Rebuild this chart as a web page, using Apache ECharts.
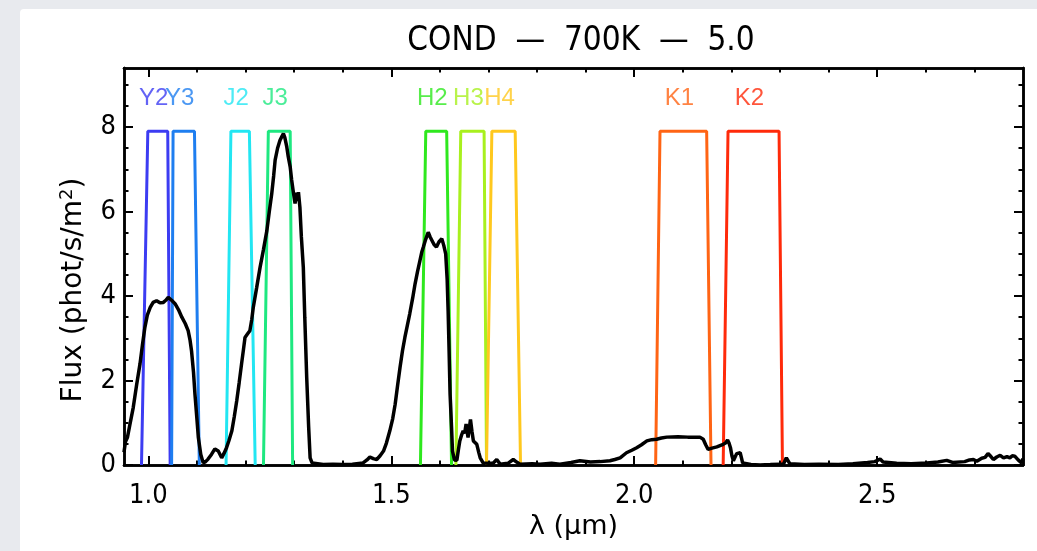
<!DOCTYPE html>
<html>
<head>
<meta charset="utf-8">
<script src="https://cdn.jsdelivr.net/npm/echarts@6/dist/echarts.min.js"></script>
<style>
  html, body { margin: 0; padding: 0; width: 1037px; height: 551px; background: #e8eaee; overflow: hidden; }
  #panel { position: absolute; left: 20px; top: 9px; right: 0; bottom: 0; background: #fff; border-top-left-radius: 4px; }
  #chart { position: absolute; left: 0; top: 0; width: 1037px; height: 551px; }
</style>
</head>
<body>
<div id="panel"></div>
<div id="chart"></div>
<script>
// spectrum (wavelength in micron, flux in phot/s/m^2)
const wave = [
  0.950, 0.953, 0.957, 0.962, 0.969, 0.976, 0.983, 0.988, 0.993, 0.998,
  1.004, 1.010, 1.017, 1.024, 1.031, 1.036, 1.041, 1.048, 1.055, 1.062,
  1.069, 1.076, 1.082, 1.086, 1.089, 1.093, 1.096, 1.100, 1.103, 1.108,
  1.113, 1.118, 1.123, 1.130, 1.137, 1.141, 1.144, 1.151, 1.156, 1.161,
  1.166, 1.172, 1.177, 1.182, 1.187, 1.192, 1.196, 1.199, 1.204, 1.209,
  1.213, 1.216, 1.223, 1.230, 1.237, 1.244, 1.249, 1.254, 1.258, 1.261,
  1.266, 1.271, 1.275, 1.278, 1.281, 1.285, 1.288, 1.292, 1.295, 1.298,
  1.302, 1.305, 1.307, 1.309, 1.312, 1.315, 1.319, 1.322, 1.326, 1.330,
  1.333, 1.337, 1.340, 1.360, 1.380, 1.400, 1.420, 1.442, 1.450, 1.456,
  1.463, 1.470, 1.477, 1.484, 1.490, 1.497, 1.503, 1.508, 1.513, 1.518,
  1.523, 1.528, 1.533, 1.538, 1.544, 1.549, 1.554, 1.559, 1.563, 1.566,
  1.571, 1.576, 1.580, 1.583, 1.588, 1.593, 1.598, 1.604, 1.608, 1.612,
  1.615, 1.617, 1.619, 1.621, 1.624, 1.626, 1.630, 1.635, 1.638, 1.641,
  1.645, 1.648, 1.651, 1.654, 1.656, 1.658, 1.661, 1.663, 1.666, 1.669,
  1.672, 1.676, 1.680, 1.683, 1.689, 1.700, 1.710, 1.717, 1.724, 1.740,
  1.751, 1.758, 1.765, 1.790, 1.806, 1.830, 1.847, 1.870, 1.888, 1.910,
  1.930, 1.950, 1.960, 1.971, 1.984, 1.995, 2.005, 2.015, 2.026, 2.036,
  2.046, 2.056, 2.067, 2.090, 2.110, 2.135, 2.142, 2.147, 2.152, 2.160,
  2.170, 2.183, 2.188, 2.192, 2.195, 2.198, 2.201, 2.204, 2.208, 2.211,
  2.215, 2.218, 2.221, 2.223, 2.240, 2.259, 2.280, 2.300, 2.307, 2.313,
  2.317, 2.320, 2.350, 2.380, 2.420, 2.450, 2.480, 2.495, 2.506, 2.512,
  2.540, 2.570, 2.602, 2.625, 2.643, 2.655, 2.680, 2.690, 2.698, 2.705,
  2.715, 2.722, 2.728, 2.734, 2.739, 2.746, 2.753, 2.760, 2.767, 2.773,
  2.778, 2.783, 2.790, 2.797, 2.800
]
const flux = [
  0.30, 0.55, 0.65, 0.95, 1.36, 1.90, 2.40, 2.85, 3.26, 3.55,
  3.73, 3.85, 3.89, 3.84, 3.85, 3.90, 3.97, 3.90, 3.82, 3.68,
  3.50, 3.35, 3.18, 2.95, 2.70, 2.20, 1.68, 1.10, 0.65, 0.25,
  0.05, 0.08, 0.14, 0.25, 0.38, 0.40, 0.33, 0.17, 0.28, 0.41,
  0.58, 0.81, 1.15, 1.52, 1.95, 2.40, 2.75, 3.02, 3.10, 3.18,
  3.45, 3.73, 4.20, 4.68, 5.10, 5.55, 6.00, 6.42, 6.85, 7.22,
  7.50, 7.69, 7.78, 7.85, 7.75, 7.53, 7.30, 7.06, 6.75, 6.50,
  6.19, 6.45, 6.25, 6.46, 6.10, 5.40, 4.68, 3.50, 2.07, 0.90,
  0.17, 0.05, 0.02, 0.01, 0.02, 0.01, 0.02, 0.05, 0.12, 0.19,
  0.15, 0.13, 0.22, 0.33, 0.52, 0.81, 1.10, 1.44, 1.88, 2.31,
  2.70, 3.02, 3.30, 3.58, 3.95, 4.29, 4.58, 4.84, 5.05, 5.16,
  5.35, 5.51, 5.40, 5.36, 5.22, 5.16, 5.28, 5.36, 5.20, 5.00,
  4.40, 3.65, 2.70, 1.68, 0.90, 0.33, 0.12, 0.11, 0.35, 0.57,
  0.72, 0.81, 0.75, 0.97, 0.80, 0.65, 0.90, 1.08, 0.80, 0.57,
  0.60, 0.49, 0.30, 0.17, 0.05, 0.04, 0.05, 0.13, 0.02, 0.04,
  0.13, 0.07, 0.02, 0.03, 0.02, 0.04, 0.02, 0.06, 0.10, 0.07,
  0.08, 0.10, 0.13, 0.17, 0.29, 0.35, 0.41, 0.48, 0.57, 0.60,
  0.61, 0.64, 0.66, 0.67, 0.66, 0.66, 0.61, 0.48, 0.37, 0.40,
  0.43, 0.49, 0.52, 0.59, 0.52, 0.41, 0.22, 0.10, 0.20, 0.27,
  0.30, 0.29, 0.15, 0.05, 0.01, 0.00, 0.01, 0.02, 0.02, 0.17,
  0.15, 0.03, 0.01, 0.02, 0.01, 0.03, 0.06, 0.08, 0.14, 0.07,
  0.04, 0.03, 0.05, 0.07, 0.11, 0.06, 0.08, 0.12, 0.13, 0.09,
  0.16, 0.18, 0.27, 0.20, 0.13, 0.19, 0.23, 0.17, 0.20, 0.17,
  0.22, 0.21, 0.12, 0.05, 0.15
]

// filter passbands: bottom-left, top-left, top-right, bottom-right edges (micron)
const filterNames = ['Y2', 'Y3', 'J2', 'J3', 'H2', 'H3', 'H4', 'K1', 'K2']
const filterEdges = [
  [0.986, 0.999, 1.040, 1.045],
  [1.048, 1.051, 1.095, 1.105],
  [1.160, 1.170, 1.208, 1.220],
  [1.237, 1.247, 1.292, 1.297],
  [1.560, 1.571, 1.614, 1.624],
  [1.633, 1.643, 1.691, 1.696],
  [1.696, 1.707, 1.755, 1.766],
  [2.044, 2.053, 2.149, 2.158],
  [2.183, 2.193, 2.298, 2.305],
]
const filterColors = ['#3c3cf2', '#1e7ef0', '#22e6f2', '#1ee880', '#2ee81e', '#a8f01e', '#ffc81e', '#ff6414', '#ff2a0a']
const filterTop = 7.9
const labelLevel = 8.69

const xMajor = [1.0, 1.5, 2.0, 2.5]
const xMinor = [1.0, 1.1, 1.2, 1.3, 1.4, 1.5, 1.6, 1.7, 1.8, 1.9, 2.0, 2.1, 2.2, 2.3, 2.4, 2.5, 2.6, 2.7]
const yMajor = [0, 2, 4, 6, 8]
const yMinor = [0, 0.5, 1, 1.5, 2, 2.5, 3, 3.5, 4, 4.5, 5, 5.5, 6, 6.5, 7, 7.5, 8, 8.5, 9]

const xMin = 0.95, xMax = 2.8, yMin = 0, yMax = 9.4

const narrow = '"DejaVu Sans Condensed", "Liberation Sans", sans-serif'
const sans = '"Liberation Sans", Arial, sans-serif'
const wide = '"DejaVu Sans", sans-serif'

const chart = echarts.init(document.getElementById('chart'))

const axisLine = { show: true, onZero: false, lineStyle: { color: '#000', width: 2.5 } }
const mkX = (pos, ticks, len, labels) => ({
  type: 'value', position: pos, min: xMin, max: xMax,
  axisLine: axisLine,
  axisTick: { show: true, inside: true, length: len, customValues: ticks, lineStyle: { color: '#000', width: 2 } },
  axisLabel: labels ? {
    show: true, customValues: xMajor, margin: 17, color: '#000', fontSize: 27, fontFamily: narrow,
    formatter: v => v.toFixed(1)
  } : { show: false },
  splitLine: { show: false },
})
const mkY = (pos, ticks, len, labels) => ({
  type: 'value', position: pos, min: yMin, max: yMax,
  axisLine: axisLine,
  axisTick: { show: true, inside: true, length: len, customValues: ticks, lineStyle: { color: '#000', width: 2 } },
  axisLabel: labels ? {
    show: true, customValues: yMajor, margin: 8, color: '#000', fontSize: 27, fontFamily: narrow,
    formatter: v => String(v)
  } : { show: false },
  splitLine: { show: false },
})

const xAxes = [mkX('bottom', xMajor, 9, true), mkX('bottom', xMinor, 4.5, false), mkX('top', xMajor, 9, false), mkX('top', xMinor, 4.5, false)]
xAxes[0].name = 'λ (μm)'
xAxes[0].nameLocation = 'middle'
xAxes[0].nameGap = 47
xAxes[0].nameTextStyle = { color: '#000', fontSize: 27, fontFamily: wide }

const yAxes = [mkY('left', yMajor, 9, true), mkY('left', yMinor, 4.5, false), mkY('right', yMajor, 9, false), mkY('right', yMinor, 4.5, false)]

const filterSeries = filterNames.map((name, i) => {
  const e = filterEdges[i]
  return {
    name: name, type: 'line', xAxisIndex: 0, yAxisIndex: 0,
    data: [[e[0], 0], [e[1], filterTop], [e[2], filterTop], [e[3], 0]],
    symbol: 'none', silent: true,
    lineStyle: { color: filterColors[i], width: 3 },
    z: 2,
  }
})

const labelSeries = {
  type: 'scatter', xAxisIndex: 0, yAxisIndex: 0, symbolSize: 0, silent: true,
  data: filterNames.map((name, i) => ({
    name: name,
    value: [(filterEdges[i][1] + filterEdges[i][2]) / 2, labelLevel],
    label: { color: filterColors[i] },
  })),
  label: { show: true, position: 'inside', formatter: '{b}', fontSize: 24, fontFamily: sans, offset: [-4, 0] },
  z: 3,
}

const option = {
  animation: false,
  backgroundColor: 'transparent',
  title: {
    text: 'COND  —  700K  —  5.0', left: 576, top: 20, textAlign: 'center',
    textStyle: { color: '#000', fontSize: 33, fontWeight: 'normal', fontFamily: narrow }
  },
  grid: { left: 124, right: 14, top: 68, bottom: 86, containLabel: false },
  xAxis: xAxes,
  yAxis: yAxes,
  graphic: [{
    type: 'text', x: 74, y: 290, rotation: Math.PI / 2, silent: true,
    style: {
      text: '{a|Flux (phot/s/m}{s|2}{a|)}', align: 'center', verticalAlign: 'middle',
      rich: {
        a: { fill: '#000', fontSize: 28, fontFamily: wide },
        s: { fill: '#000', fontSize: 18, fontFamily: wide, verticalAlign: 'top', padding: [0, 0, 14, 0] }
      }
    }
  }],
  series: [
    ...filterSeries,
    labelSeries,
    {
      name: 'flux', type: 'line', xAxisIndex: 0, yAxisIndex: 0,
      data: wave.map((w, i) => [w, flux[i]]),
      symbol: 'none', silent: true,
      lineStyle: { color: '#000', width: 3.5 },
      z: 4,
    },
  ],
}

chart.setOption(option)
</script>
</body>
</html>
